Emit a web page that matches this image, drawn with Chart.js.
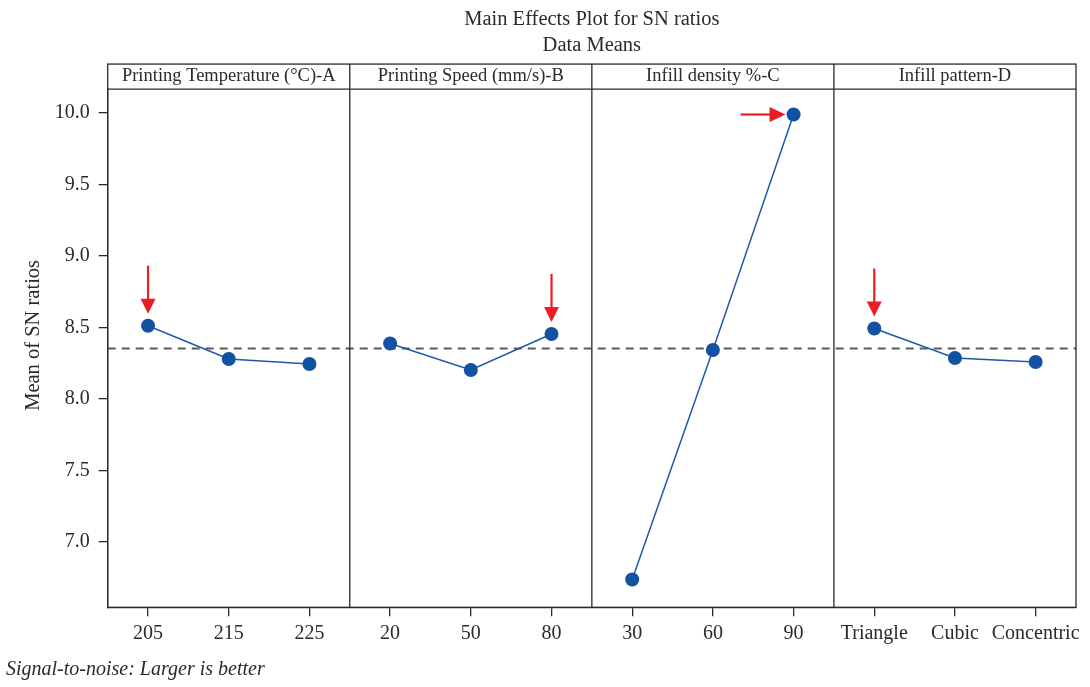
<!DOCTYPE html>
<html>
<head>
<meta charset="utf-8">
<script src="https://cdn.jsdelivr.net/npm/chart.js@4.4.1/dist/chart.umd.min.js"></script>
<style>
html,body{margin:0;padding:0;background:#ffffff;}
#wrap{width:1090px;height:687px;}
canvas{display:block;}
</style>
</head>
<body>
<div id="wrap"><canvas id="c" width="1090" height="687"></canvas></div>
<script>
// ---- data ----
const categories = ['205', '215', '225', '20', '50', '80', '30', '60', '90', 'Triangle', 'Cubic', 'Concentric'];
const panelTitles = ['Printing Temperature (°C)-A', 'Printing Speed (mm/s)-B', 'Infill density %-C', 'Infill pattern-D'];
const valuesA = [8.512, 8.279, 8.244];
const valuesB = [8.388, 8.202, 8.454];
const valuesC = [6.737, 8.342, 9.990];
const valuesD = [8.493, 8.286, 8.258];
const grandMean = 8.353;
const yTickValues = [7.0, 7.5, 8.0, 8.5, 9.0, 9.5, 10.0];
const yMin = 6.542;
const yMax = 10.168;
const arrowCategories = [0, 5, 8, 9];
const arrowDirections = ['down', 'down', 'right', 'down'];

// ---- styles ----
const SERIF = '"Liberation Serif", "Times New Roman", serif';
const INK = '#2a2a2a';
const BLUE_LINE = '#1d59a8';
const BLUE_PT = '#1352a3';
const RED = '#ec1c24';

const panelValues = [valuesA, valuesB, valuesC, valuesD];
const datasets = panelValues.map((vals, p) => ({
  label: panelTitles[p],
  data: categories.map((_, i) => (Math.floor(i / 3) === p ? vals[i % 3] : null)),
  borderColor: BLUE_LINE,
  backgroundColor: BLUE_PT,
  borderWidth: 1.5,
  pointRadius: 7,
  pointBorderWidth: 0,
  pointBackgroundColor: BLUE_PT,
  spanGaps: false,
  tension: 0
}));

const framePlugin = {
  id: 'frame',
  beforeDatasetsDraw(chart) {
    const {ctx, chartArea: a, scales} = chart;
    const y = scales.y.getPixelForValue(grandMean);
    ctx.save();
    ctx.strokeStyle = '#5a5a5a';
    ctx.lineWidth = 2;
    ctx.setLineDash([8, 6]);
    ctx.beginPath();
    ctx.moveTo(a.left, y);
    ctx.lineTo(a.right, y);
    ctx.stroke();
    ctx.restore();
  },
  afterDraw(chart) {
    const {ctx, chartArea: a, scales} = chart;
    const top = scales.xTop.top;
    const x = scales.x;
    ctx.save();
    ctx.strokeStyle = INK;
    ctx.lineWidth = 1.3;
    ctx.strokeRect(a.left, top, a.right - a.left, a.bottom - top);
    ctx.beginPath();
    ctx.moveTo(a.left, a.top);
    ctx.lineTo(a.right, a.top);
    for (let k = 1; k < panelTitles.length; k++) {
      const bx = (x.getPixelForValue(3 * k - 1) + x.getPixelForValue(3 * k)) / 2;
      ctx.moveTo(bx, top);
      ctx.lineTo(bx, a.bottom);
    }
    ctx.stroke();
    // arrows marking the best level
    ctx.fillStyle = RED;
    ctx.strokeStyle = RED;
    ctx.lineWidth = 2.2;
    arrowCategories.forEach((ci, n) => {
      const p = Math.floor(ci / 3);
      const v = panelValues[p][ci % 3];
      const px = x.getPixelForValue(ci);
      const py = scales.y.getPixelForValue(v);
      ctx.beginPath();
      if (arrowDirections[n] === 'down') {
        const tip = py - 12;
        ctx.moveTo(px, tip - 14);
        ctx.lineTo(px, tip - 48);
        ctx.stroke();
        ctx.beginPath();
        ctx.moveTo(px, tip);
        ctx.lineTo(px - 7.5, tip - 15);
        ctx.lineTo(px + 7.5, tip - 15);
        ctx.closePath();
        ctx.fill();
      } else {
        const tip = px - 8;
        ctx.moveTo(tip - 14, py);
        ctx.lineTo(tip - 45, py);
        ctx.stroke();
        ctx.beginPath();
        ctx.moveTo(tip, py);
        ctx.lineTo(tip - 16, py - 7.5);
        ctx.lineTo(tip - 16, py + 7.5);
        ctx.closePath();
        ctx.fill();
      }
    });
    ctx.restore();
  }
};

new Chart(document.getElementById('c'), {
  type: 'line',
  data: { labels: categories, datasets },
  options: {
    responsive: false,
    devicePixelRatio: 1,
    animation: false,
    events: [],
    layout: { padding: { left: 6, right: 14, top: 0, bottom: 0 } },
    plugins: {
      legend: { display: false },
      tooltip: { enabled: false },
      title: {
        display: true,
        fullSize: false,
        text: ['Main Effects Plot for SN ratios', 'Data Means'],
        color: INK,
        font: { family: SERIF, size: 20.5, weight: 'normal', lineHeight: 1.27 },
        padding: { top: 7, bottom: 5 }
      },
      subtitle: {
        display: true,
        position: 'bottom',
        align: 'start',
        text: 'Signal-to-noise: Larger is better',
        color: INK,
        font: { family: SERIF, size: 20, style: 'italic', weight: 'normal', lineHeight: 1.2 },
        padding: { top: 9, bottom: 5 }
      }
    },
    scales: {
      x: {
        type: 'category',
        position: 'bottom',
        offset: true,
        grid: { display: true, drawOnChartArea: false, drawTicks: true, tickLength: 9, offset: false, color: INK, lineWidth: 1.3 },
        border: { display: true, color: INK, width: 1.3 },
        ticks: { color: INK, font: { family: SERIF, size: 20 }, padding: 5, maxRotation: 0, autoSkip: false },
        afterFit: s => { s.height = 41.7; }
      },
      xTop: {
        type: 'category',
        position: 'top',
        labels: panelTitles,
        offset: true,
        grid: { display: false, drawTicks: false },
        border: { display: false },
        ticks: { color: INK, font: { family: SERIF, size: 18.5 }, padding: 1.5, maxRotation: 0, autoSkip: false },
        afterFit: s => { s.height = 25; }
      },
      y: {
        type: 'linear',
        position: 'left',
        min: yMin,
        max: yMax,
        afterBuildTicks: s => { s.ticks = yTickValues.map(v => ({ value: v })); },
        grid: { display: true, drawOnChartArea: false, drawTicks: true, tickLength: 9, color: INK, lineWidth: 1.3 },
        border: { display: true, color: INK, width: 1.3 },
        ticks: { color: INK, font: { family: SERIF, size: 20 }, padding: 9, callback: v => Number(v).toFixed(1) },
        title: { display: true, text: '     Mean of SN ratios', color: INK, font: { family: SERIF, size: 20.5, weight: 'normal' }, padding: { top: 15, bottom: 0 } },
        afterFit: s => { s.width = 101.7; }
      }
    }
  },
  plugins: [framePlugin]
});
</script>
</body>
</html>
